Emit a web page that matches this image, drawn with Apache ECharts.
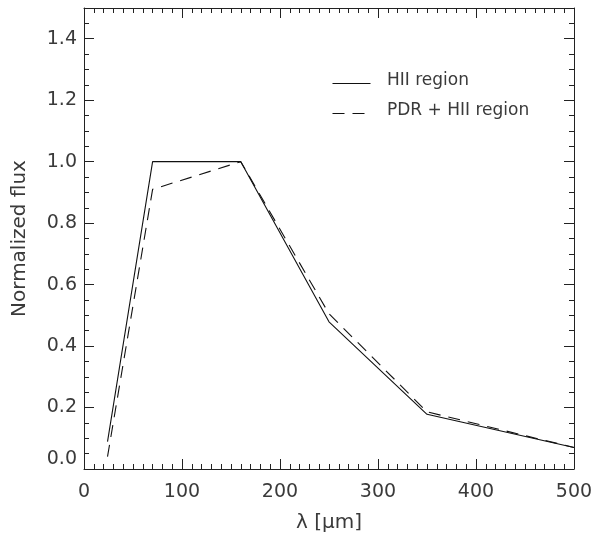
<!DOCTYPE html>
<html>
<head>
<meta charset="utf-8">
<script src="https://cdn.jsdelivr.net/npm/echarts@6/dist/echarts.min.js"></script>
<style>html,body{margin:0;padding:0;background:#fff;}#c{width:605px;height:544px;}</style>
</head>
<body>
<div id="c"></div>
<script>
const wavelengths = [24, 70, 160, 250, 350, 500];
const hiiFlux = [0.089, 1.0, 1.0, 0.479, 0.178, 0.07];
const pdrFlux = [0.04, 0.91, 1.0, 0.505, 0.186, 0.07];
const seriesNames = ['HII region', 'PDR + HII region'];
const xTitle = 'λ [μm]';
const yTitle = 'Normalized flux';

const FONT = 'DejaVu Sans';
const TXT = '#3a3a3a';
const DASH = [12, 8];
const pairs = (xs, ys) => xs.map((x, i) => [x, ys[i]]);

const axisCommon = {
  axisLine: { onZero: false, lineStyle: { color: '#222', width: 1 } },
  axisTick: { inside: true, length: 10, lineStyle: { color: '#222' } },
  minorTick: { show: true, length: 5, lineStyle: { color: '#222' } },
  splitLine: { show: false }
};

const chart = echarts.init(document.getElementById('c'), null, { renderer: 'canvas' });
chart.setOption({
  animation: false,
  backgroundColor: '#fff',
  grid: { left: 84, right: 31, top: 8, bottom: 75 },
  xAxis: [
    Object.assign({}, axisCommon, {
      type: 'value', min: 0, max: 500, interval: 100, position: 'bottom',
      minorTick: Object.assign({}, axisCommon.minorTick, { splitNumber: 10 }),
      axisLabel: { fontFamily: FONT, fontSize: 19, color: TXT, margin: 14 },
      name: xTitle, nameLocation: 'middle', nameGap: 44,
      nameTextStyle: { fontFamily: FONT, fontSize: 20, color: TXT }
    }),
    Object.assign({}, axisCommon, {
      type: 'value', min: 0, max: 500, interval: 100, position: 'top',
      minorTick: Object.assign({}, axisCommon.minorTick, { splitNumber: 10 }),
      axisLabel: { show: false }
    })
  ],
  yAxis: [
    Object.assign({}, axisCommon, {
      type: 'value', min: 0, max: 1.5, interval: 0.2, position: 'left',
      minorTick: Object.assign({}, axisCommon.minorTick, { splitNumber: 4 }),
      axisLabel: { fontFamily: FONT, fontSize: 19, color: TXT, margin: 7,
        showMaxLabel: false, verticalAlignMinLabel: 'bottom',
        formatter: v => v.toFixed(1) },
      name: yTitle, nameLocation: 'middle', nameGap: 54,
      nameTextStyle: { fontFamily: FONT, fontSize: 20, color: TXT }
    }),
    Object.assign({}, axisCommon, {
      type: 'value', min: 0, max: 1.5, interval: 0.2, position: 'right',
      minorTick: Object.assign({}, axisCommon.minorTick, { splitNumber: 4 }),
      axisLabel: { show: false }
    })
  ],
  graphic: [
    { type: 'line', left: 330, top: 81, shape: { x1: 0, y1: 0, x2: 38, y2: 0 },
      style: { stroke: '#111', lineWidth: 1.1 } },
    { type: 'text', left: 387, top: 72, style: { text: seriesNames[0], font: '17px "DejaVu Sans"', fill: TXT } },
    { type: 'line', left: 330, top: 111, shape: { x1: 0, y1: 0, x2: 40, y2: 0 },
      style: { stroke: '#111', lineWidth: 1.1, lineDash: DASH } },
    { type: 'text', left: 387, top: 102, style: { text: seriesNames[1], font: '17px "DejaVu Sans"', fill: TXT } }
  ],
  series: [
    { name: seriesNames[0], type: 'line', data: pairs(wavelengths, hiiFlux),
      showSymbol: false, symbol: 'none',
      lineStyle: { color: '#111', width: 1.1, type: 'solid' } },
    { name: seriesNames[1], type: 'line', data: pairs(wavelengths, pdrFlux),
      showSymbol: false, symbol: 'none',
      lineStyle: { color: '#111', width: 1.1, type: DASH } }
  ]
});
</script>
</body>
</html>
